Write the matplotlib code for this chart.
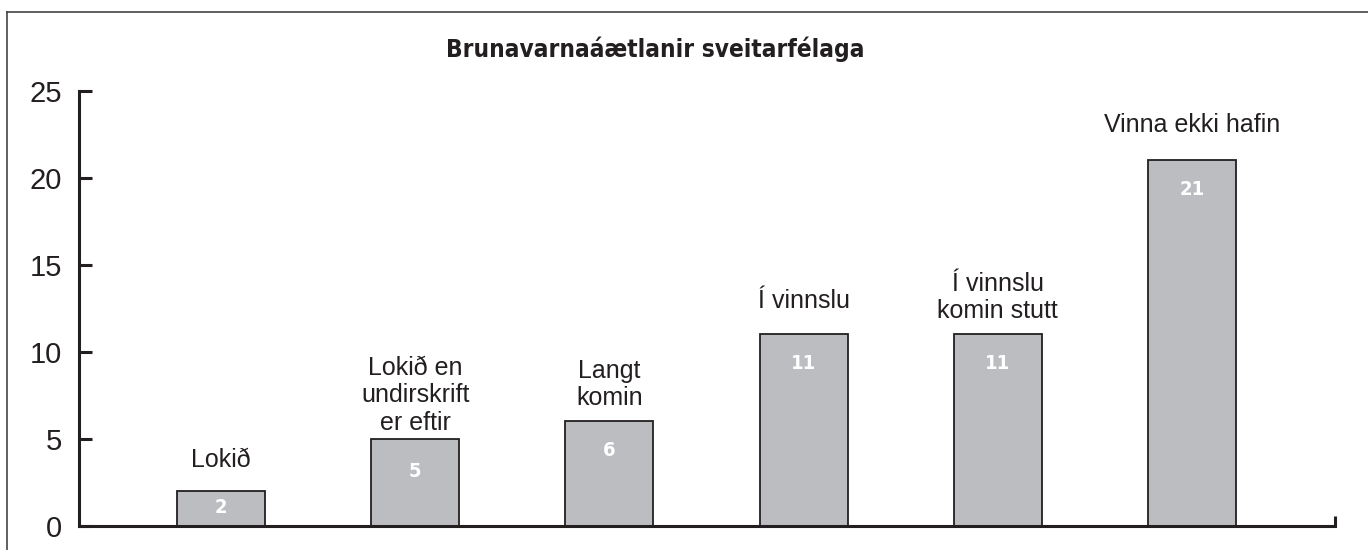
import matplotlib.pyplot as plt
from matplotlib.lines import Line2D

# Data
categories = ["Lokið", "Lokið en\nundirskrift\ner eftir", "Langt\nkomin",
              "Í vinnslu", "Í vinnslu\nkomin stutt", "Vinna ekki hafin"]
values = [2, 5, 6, 11, 11, 21]
title = "Brunavarnaáætlanir sveitarfélaga"
y_ticks = [0, 5, 10, 15, 20, 25]

# label placement (pixel offsets from bar top)
cat_offsets = [24, 9, 16, 26, 16, 28]
val_offsets = [-17, -33, -29, -29, -29, -29]

ink = "#231f20"
bar_color = "#bcbdc1"

plt.rcParams['font.family'] = ['Liberation Sans', 'DejaVu Sans']

fig = plt.figure(figsize=(13.68, 5.5), dpi=100)
ax = fig.add_axes([79 / 1368, 24.3 / 550, (1335 - 79) / 1368, (525.7 - 90.7) / 550])

x = list(range(len(values)))
ax.bar(x, values, width=0.453, color=bar_color, edgecolor=ink, linewidth=1.3, zorder=2)

for xi, v, cat, co, vo in zip(x, values, categories, cat_offsets, val_offsets):
    ax.annotate(cat, (xi, v), xytext=(0, co * 0.72), textcoords='offset points',
                ha='center', va='baseline', fontsize=18, color=ink, linespacing=1.18)
    ax.annotate(str(v), (xi, v), xytext=(0, vo * 0.72), textcoords='offset points',
                ha='center', va='center', fontsize=14.5, fontweight='bold', color='white',
                family='DejaVu Sans', fontstretch='condensed')

ax.set_xlim(-0.731, 5.736)
ax.set_ylim(0, 25)
ax.set_yticks(y_ticks)
ax.set_xticks([5.736])
ax.set_xticklabels([""])
for s in ['top', 'right']:
    ax.spines[s].set_visible(False)
for s in ['left', 'bottom']:
    ax.spines[s].set_linewidth(2.2)
    ax.spines[s].set_color(ink)
ax.tick_params(axis='y', direction='in', length=9.5, width=2.2, color=ink,
               labelsize=21, labelcolor=ink, pad=12)
ax.tick_params(axis='x', direction='in', length=7, width=2.2, color=ink)

fig.text(655 / 1368, 1 - 57 / 550, title, ha='center', va='baseline',
         fontsize=17.5, fontweight='bold', color=ink, family='DejaVu Sans',
         fontstretch='condensed')

# frame around the figure
fig.add_artist(Line2D([6.5 / 1368, 6.5 / 1368], [0, 1 - 12 / 550], transform=fig.transFigure,
                      color="#444444", linewidth=1.2))
fig.add_artist(Line2D([6.5 / 1368, 1], [1 - 12 / 550, 1 - 12 / 550], transform=fig.transFigure,
                      color="#444444", linewidth=1.2))

fig.savefig("out.png", dpi=100)
